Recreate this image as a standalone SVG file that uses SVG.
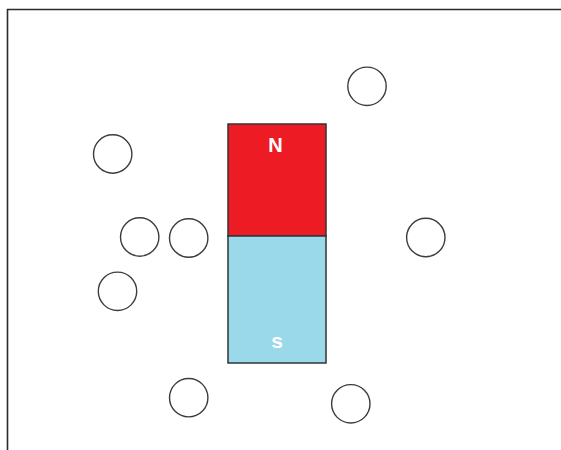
<svg xmlns="http://www.w3.org/2000/svg" width="561" height="450" viewBox="0 0 561 450">
<style>
.ball{fill:#fff;stroke:#3c3c3c;stroke-width:1.4}
.lbl{font-family:"Liberation Sans",Arial,sans-serif;font-weight:bold;font-size:20px;fill:#fff;text-anchor:middle}
.mag{stroke:#333;stroke-width:1.5}
</style>
<rect width="561" height="450" fill="#fff"/>
<path d="M7.5 450 V9.5 H561" fill="none" stroke="#2a2a2a" stroke-width="1.6"/>
<g id="magnet">
<rect class="mag" x="228" y="124" width="98" height="112" fill="#ED1C24"/>
<rect class="mag" x="228" y="236" width="98" height="127" fill="#99D9EA"/>
<text class="lbl" x="275.5" y="152">N</text>
<text class="lbl" x="277" y="348" style="font-size:21px">s</text>
</g>
<g id="ball1"><circle class="ball" cx="112.7" cy="154" r="19.2"/></g>
<g id="ball2"><circle class="ball" cx="139.7" cy="237" r="19.2"/></g>
<g id="ball3"><circle class="ball" cx="188.7" cy="238" r="19.2"/></g>
<g id="ball4"><circle class="ball" cx="117.5" cy="291.3" r="19.2"/></g>
<g id="ball5"><circle class="ball" cx="367" cy="86.3" r="19.2"/></g>
<g id="ball6"><circle class="ball" cx="425.8" cy="237.5" r="19.2"/></g>
<g id="ball7"><circle class="ball" cx="188.7" cy="397.7" r="19.2"/></g>
<g id="ball8"><circle class="ball" cx="350.8" cy="403.8" r="19.2"/></g>
<g id="connectors"></g>
</svg>
